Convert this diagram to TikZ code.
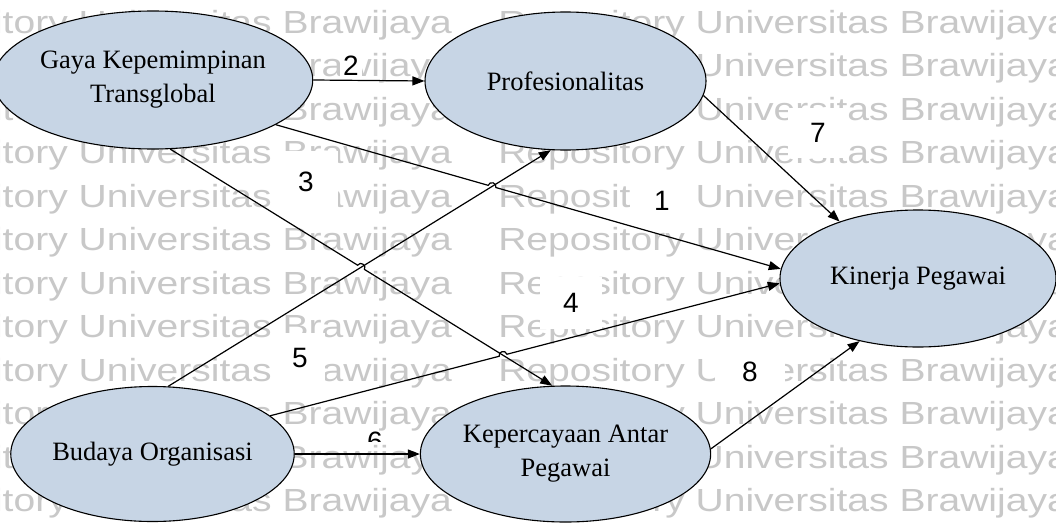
\documentclass[tikz,border=0pt]{standalone}
\usepackage{fontspec}
\setmainfont{Liberation Serif}
\newfontfamily\arialf{Liberation Sans}
\usetikzlibrary{shapes.geometric,arrows.meta,calc,intersections}
\definecolor{ellfill}{RGB}{199,213,229}
\definecolor{wmark}{RGB}{200,200,200}
\tikzset{
  var/.style={ellipse, draw=black, line width=1.1pt, fill=ellfill, inner sep=0pt,
    align=center, font=\fontsize{26.5}{34}\selectfont},
  conn/.style={line width=1.2pt, -{Triangle[length=12pt,width=9pt]}},
  lbl/.style={fill=white, inner sep=0pt, font=\arialf\fontsize{28}{30}\selectfont},
  wm/.style={anchor=base west, inner sep=0pt, text=wmark, xscale=1.22, transform shape,
    font=\arialf\fontsize{32}{34}\selectfont}
}
\begin{document}
\begin{tikzpicture}[x=1pt,y=-1pt]
\useasboundingbox (0,0) rectangle (1056,522);
\clip (0,0) rectangle (1056,522);
\fill[white] (0,0) rectangle (1056,522);
% watermark
\foreach \k in {0,...,11}{
  \node[wm] (wa\k) at (-119,33+43.5*\k) {Repository Universitas Brawijaya};
  \node[wm] (wb\k) at (498,33+43.5*\k) {Repository Universitas Brawijaya};
}
% label boxes
\node[lbl, minimum width=64pt, minimum height=50pt] (l1) at (662,201) {1};
\node[lbl, minimum width=22pt, minimum height=24pt] (l2) at (351,66) {2};
\node[lbl, minimum width=64pt, minimum height=62pt] (l3) at (306,182) {3};
\node[lbl, minimum width=62pt, minimum height=52pt] (l4) at (571,303) {4};
\node[lbl, minimum width=50pt, minimum height=50pt] (l5) at (300,358) {5};
\node[lbl, minimum width=60pt, minimum height=50pt] (l7) at (818,133) {7};
\node[lbl, minimum width=70pt, minimum height=46pt] (l8) at (750,372) {8};
\begin{scope}
\clip (345,420) rectangle (400,441);
\node[lbl] (l6) at (375,442) {6};
\end{scope}
% variables
\node[var, minimum width=282pt, minimum height=138pt] (g) at (153,80) {Gaya Kepemimpinan\\Transglobal};
\node[var, minimum width=281pt, minimum height=138pt] (p) at (565.5,81) {Profesionalitas};
\node[var, minimum width=276pt, minimum height=137pt] (k) at (918,278.5) {Kinerja Pegawai};
\node[var, minimum width=281pt, minimum height=135pt] (b) at (152.5,454) {Budaya Organisasi};
\node[var, minimum width=281pt, minimum height=136pt] (c) at (565.5,454) {Kepercayaan Antar\\Pegawai};
% helper paths for crossings
\path[name path=p1] (g.-20.2) -- (k.176.5);
\path[name path=p3] (g.-76.5) -- (c.101.4);
\path[name path=p4] (b.18.1) -- (k.-178.1);
\path[name path=p5] (b.77.9) -- (p.258.9);
\path[name intersections={of=p1 and p5, by=x15}];
\path[name intersections={of=p3 and p5, by=x35}];
\path[name intersections={of=p4 and p3, by=x43}];
% connectors
\draw[conn] (g.east) -- (p.west);
\draw[conn] (g.-20.2) -- ($(x15)!4pt!(g.-20.2)$)
  .. controls ($(x15)!4pt!(g.-20.2)!5pt!90:(x15)$) and ($(x15)!4pt!(k.176.5)!5pt!-90:(x15)$)
  .. ($(x15)!4pt!(k.176.5)$) -- (k.176.5);
\draw[conn] (g.-76.5) -- ($(x35)!4pt!(g.-76.5)$)
  .. controls ($(x35)!4pt!(g.-76.5)!5pt!90:(x35)$) and ($(x35)!4pt!(c.101.4)!5pt!-90:(x35)$)
  .. ($(x35)!4pt!(c.101.4)$) -- (c.101.4);
\draw[conn] (b.18.1) -- ($(x43)!4pt!(b.18.1)$)
  .. controls ($(x43)!4pt!(b.18.1)!5pt!90:(x43)$) and ($(x43)!4pt!(k.-178.1)!5pt!-90:(x43)$)
  .. ($(x43)!4pt!(k.-178.1)$) -- (k.-178.1);
\draw[conn] (b.77.9) -- (p.258.9);
\draw[conn] (b.east) -- (c.west);
\draw[conn] (p.-6.7) -- (k.144.8);
\draw[conn] (c.2.5) -- (k.-133.8);
\end{tikzpicture}
\end{document}
